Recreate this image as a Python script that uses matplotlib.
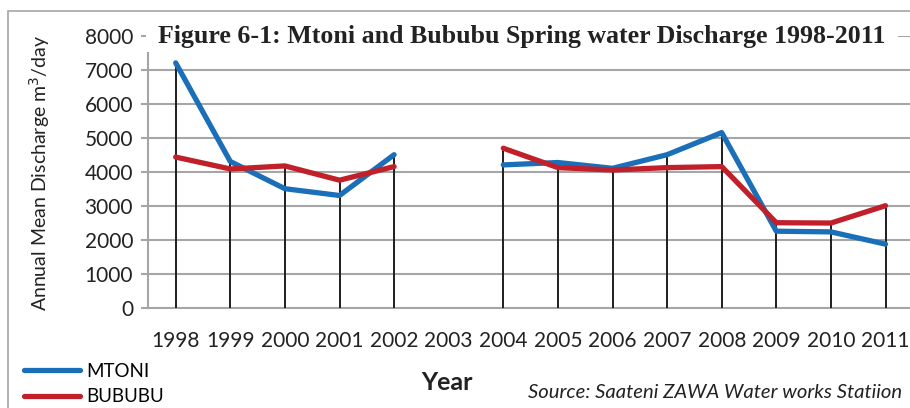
import numpy as np
import matplotlib
matplotlib.use("Agg")
import matplotlib.pyplot as plt
from matplotlib.patches import Rectangle

# Data (2003 has no record)
years = ['1998', '1999', '2000', '2001', '2002', '2003', '2004',
         '2005', '2006', '2007', '2008', '2009', '2010', '2011']
mtoni = [7200, 4300, 3500, 3300, 4500, np.nan, 4200,
         4270, 4100, 4500, 5150, 2250, 2230, 1870]
bububu = [4430, 4080, 4170, 3750, 4150, np.nan, 4690,
          4120, 4050, 4120, 4150, 2500, 2490, 3000]
y_ticks = [0, 1000, 2000, 3000, 4000, 5000, 6000, 7000, 8000]

W, H = 910, 408
plt.rcParams['font.family'] = ['Lato', 'DejaVu Sans']

fig = plt.figure(figsize=(W / 100, H / 100), dpi=100)
fig.patch.set_facecolor('white')

# plot area in pixel terms
left_px, right_px = 148.4, 912.8
top_px, bottom_px = 35.7, 307.7
ax = fig.add_axes([left_px / W, 1 - bottom_px / H,
                   (right_px - left_px) / W, (bottom_px - top_px) / H])

x = np.arange(len(years))
m = np.array(mtoni, dtype=float)
b = np.array(bububu, dtype=float)

# drop lines from the higher of the two series down to zero
has = ~np.isnan(m)
ax.vlines(x[has], 0, np.fmax(m, b)[has], color='#1e1e1e', lw=1.4, zorder=3)

ax.plot(x, m, color='#1a6fb8', lw=3.8, solid_capstyle='round', zorder=4, label='MTONI')
ax.plot(x, b, color='#c1202b', lw=3.8, solid_capstyle='round', zorder=5, label='BUBUBU')

ax.set_xlim(-0.5, len(years) - 0.5)
ax.set_ylim(0, 8000)
ax.set_yticks(y_ticks)
ax.set_xticks(x)
ax.set_xticklabels(years)
ax.grid(axis='y', color='#a6a6a6', lw=1.5, zorder=1)
ax.set_axisbelow(True)
for s in ['top', 'right']:
    ax.spines[s].set_visible(False)
ax.spines['left'].set_color('#a6a6a6')
ax.spines['left'].set_linewidth(1.5)
ax.spines['bottom'].set_color('#a6a6a6')
ax.spines['bottom'].set_linewidth(1.5)
ax.tick_params(axis='y', length=5, width=1.5, color='#a6a6a6', labelsize=15,
               labelcolor='#222222', pad=6)
ax.tick_params(axis='x', length=0, labelsize=15, labelcolor='#222222', pad=17)

# outer chart border
fig.add_artist(Rectangle((8 / W, -0.05), 1.0, 1 - 11 / H + 0.05,
                         transform=fig.transFigure, fill=False,
                         ec='#a6a6a6', lw=1.2, zorder=0))

# title sits in a white box over the top gridline
fig.add_artist(Rectangle((146 / W, 1 - 52 / H), 752 / W, 32 / H,
                         transform=fig.transFigure, fc='white', ec='none', zorder=2))
fig.text(522 / W, 1 - 36 / H, 'Figure 6-1: Mtoni and Bububu Spring water Discharge 1998-2011',
         ha='center', va='center', fontsize=18.6, fontweight='bold',
         family='Liberation Serif', color='#222222', zorder=3)

fig.text(40 / W, 1 - 173 / H, 'Annual Mean Discharge m$^3$/day', rotation=90,
         ha='center', va='center', fontsize=14, color='#222222')

fig.text(447 / W, 1 - 383 / H, 'Year', ha='center', va='center',
         fontsize=18, fontweight='bold', color='#222222')
fig.text(902 / W, 1 - 392 / H, 'Source: Saateni ZAWA Water works Statiion',
         ha='right', va='center', fontsize=14.6, style='italic', color='#222222')

fig.legend(loc='upper left', bbox_to_anchor=(24 / W, 1 - 363 / H), frameon=False,
           fontsize=13.5, handlelength=3.0, handletextpad=0.3, labelspacing=0.45,
           borderpad=0, borderaxespad=0)

fig.savefig('out.png', dpi=100)
